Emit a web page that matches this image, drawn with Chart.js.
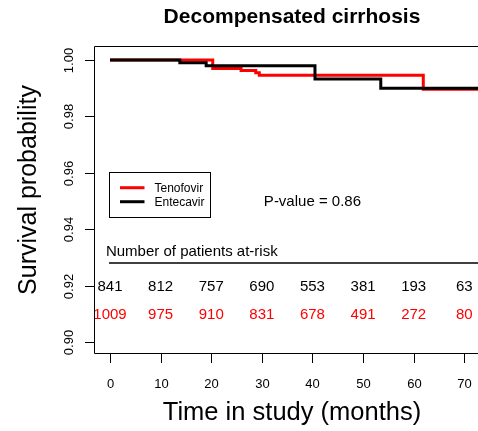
<!DOCTYPE html>
<html>
<head>
<meta charset="utf-8">
<script src="https://cdn.jsdelivr.net/npm/chart.js@4/dist/chart.umd.min.js"></script>
<style>
  html, body { margin: 0; padding: 0; background: #ffffff; }
  #wrap { width: 478px; height: 431px; }
</style>
</head>
<body>
<div id="wrap"><canvas id="c" width="478" height="431"></canvas></div>
<script>
// ---- data ----
const chartTitle = "Decompensated cirrhosis";
const xTitle = "Time in study (months)";
const yTitle = "Survival probability";
const seriesNames = ["Tenofovir", "Entecavir"];

const xTicks = [0, 10, 20, 30, 40, 50, 60, 70];
const yTicks = [0.90, 0.92, 0.94, 0.96, 0.98, 1.00];

// Kaplan-Meier steps (time in months, survival probability)
const tenofovirTimes = [0, 20.3, 25.9, 28.8, 29.5, 61.9, 73];
const tenofovirSurv  = [1.0, 0.9970, 0.9963, 0.9955, 0.9946, 0.9896, 0.9896];
const entecavirTimes = [0, 13.8, 19.0, 40.5, 53.5, 73];
const entecavirSurv  = [1.0, 0.9990, 0.9980, 0.9933, 0.9900, 0.9900];

// Number of patients at risk at each x tick
const atRiskEntecavir = [841, 812, 757, 690, 553, 381, 193, 63];
const atRiskTenofovir = [1009, 975, 910, 831, 678, 491, 272, 80];
const atRiskHeader = "Number of patients at-risk";
const pValueText = "P-value = 0.86";

// ---- chart ----
const RED = "#ff0000", BLACK = "#000000";
const FONT = "'Liberation Sans', Arial, Helvetica, sans-serif";

function toXY(ts, ss) { return ts.map((t, i) => ({ x: t, y: ss[i] })); }

const overlay = {
  id: "overlay",
  beforeDatasetsDraw(chart) {
    const ctx = chart.ctx, a = chart.chartArea;
    const xs = chart.scales.x, ys = chart.scales.y;
    ctx.save();
    ctx.strokeStyle = "#000"; ctx.lineWidth = 1;
    // box (top, left, bottom)
    ctx.beginPath();
    ctx.moveTo(a.right, a.top + 0.5); ctx.lineTo(a.left + 0.5, a.top + 0.5);
    ctx.lineTo(a.left + 0.5, a.bottom - 0.5); ctx.lineTo(a.right, a.bottom - 0.5);
    ctx.stroke();
    // y ticks
    ctx.fillStyle = "#000";
    ctx.font = "13px " + FONT;
    yTicks.forEach(v => {
      const py = Math.round(ys.getPixelForValue(v)) + 0.5;
      ctx.beginPath(); ctx.moveTo(a.left - 9, py); ctx.lineTo(a.left + 0.5, py); ctx.stroke();
      ctx.save();
      ctx.translate(a.left - 21, py);
      ctx.rotate(-Math.PI / 2);
      ctx.textAlign = "center"; ctx.textBaseline = "alphabetic";
      ctx.fillText(v.toFixed(2), 0, 0);
      ctx.restore();
    });
    // x ticks
    xTicks.forEach(v => {
      const px = Math.round(xs.getPixelForValue(v)) + 0.5;
      ctx.beginPath(); ctx.moveTo(px, a.bottom); ctx.lineTo(px, a.bottom + 9); ctx.stroke();
      ctx.textAlign = "center"; ctx.textBaseline = "alphabetic";
      ctx.fillText(String(v), px, a.bottom + 34);
    });
    // titles
    ctx.font = "bold 21px " + FONT;
    ctx.textAlign = "center";
    ctx.fillText(chartTitle, 292, 23);
    ctx.font = "25.5px " + FONT;
    ctx.fillText(xTitle, 292, 420);
    ctx.save();
    ctx.translate(36, 190);
    ctx.rotate(-Math.PI / 2);
    ctx.font = "25px " + FONT;
    ctx.fillText(yTitle, 0, 0);
    ctx.restore();
    ctx.restore();
  },
  afterDatasetsDraw(chart) {
    const ctx = chart.ctx, a = chart.chartArea;
    const xs = chart.scales.x, ys = chart.scales.y;
    ctx.save();
    ctx.beginPath(); ctx.rect(a.left + 1, 0, a.right - a.left, chart.height); ctx.clip();
    // at-risk table
    ctx.fillStyle = "#000";
    ctx.font = "15px " + FONT;
    ctx.textAlign = "left"; ctx.textBaseline = "alphabetic";
    ctx.fillText(atRiskHeader, xs.getPixelForValue(-0.8), ys.getPixelForValue(0.9323) + 5.5);
    ctx.strokeStyle = "#000"; ctx.lineWidth = 1.5;
    const ly = ys.getPixelForValue(0.928);
    ctx.beginPath(); ctx.moveTo(xs.getPixelForValue(-0.2), ly); ctx.lineTo(a.right, ly); ctx.stroke();
    ctx.textAlign = "center";
    xTicks.forEach((t, i) => {
      const px = xs.getPixelForValue(t);
      ctx.fillStyle = BLACK;
      ctx.fillText(String(atRiskEntecavir[i]), px, ys.getPixelForValue(0.92) + 5.3);
      ctx.fillStyle = RED;
      ctx.fillText(String(atRiskTenofovir[i]), px, ys.getPixelForValue(0.91) + 5.3);
    });
    // p-value
    ctx.fillStyle = "#000";
    ctx.fillText(pValueText, xs.getPixelForValue(40), ys.getPixelForValue(0.95) + 5.5);
    // legend
    const lx = xs.getPixelForValue(0) - 0.5, ty = ys.getPixelForValue(0.9602);
    ctx.lineWidth = 1; ctx.strokeStyle = "#000";
    ctx.strokeRect(Math.round(lx) + 0.5, Math.round(ty) + 0.5, 101, 45);
    const cols = [RED, BLACK];
    seriesNames.forEach((n, i) => {
      const yy = ty + 15.5 + i * 14;
      ctx.strokeStyle = cols[i]; ctx.lineWidth = 3;
      ctx.beginPath(); ctx.moveTo(lx + 10.5, yy); ctx.lineTo(lx + 35, yy); ctx.stroke();
      ctx.fillStyle = "#000";
      ctx.font = "12px " + FONT;
      ctx.textAlign = "left";
      ctx.fillText(n, lx + 45, yy + 4.4);
    });
    ctx.restore();
  }
};

new Chart(document.getElementById("c"), {
  type: "line",
  data: {
    datasets: [
      { label: seriesNames[1], data: toXY(entecavirTimes, entecavirSurv), borderColor: BLACK,
        borderWidth: 3, stepped: "before", pointRadius: 0, fill: false, order: 0 },
      { label: seriesNames[0], data: toXY(tenofovirTimes, tenofovirSurv), borderColor: RED,
        borderWidth: 3, stepped: "before", pointRadius: 0, fill: false, order: 1 }
    ]
  },
  options: {
    responsive: false,
    animation: false,
    devicePixelRatio: 1,
    layout: { padding: { left: 94, top: 46, right: 0, bottom: 77 } },
    scales: {
      x: { type: "linear", min: -3.16, max: 72.71, display: false },
      y: { type: "linear", min: 0.89574, max: 1.00496, display: false }
    },
    plugins: { legend: { display: false }, tooltip: { enabled: false }, title: { display: false } }
  },
  plugins: [overlay]
});
</script>
</body>
</html>
